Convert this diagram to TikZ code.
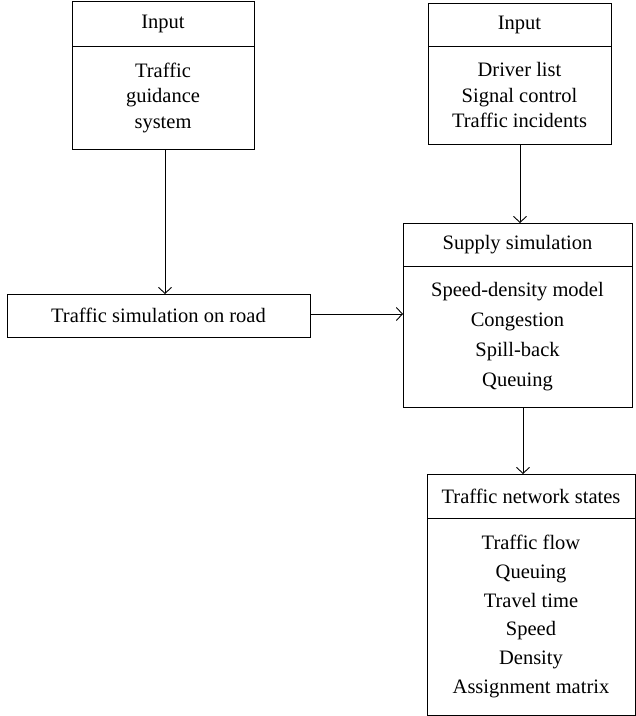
\documentclass[tikz,border=0pt]{standalone}
\usepackage{fontspec}
\setmainfont{Liberation Serif}
\usetikzlibrary{arrows.meta}
\tikzset{
  boxpart/.style={draw, line width=0.9pt, rectangle, inner sep=0pt, outer sep=0pt,
    anchor=north west, align=center, font=\fontsize{20.5}{25.5}\selectfont},
  conn/.style={line width=0.9pt, -{Straight Barb[length=6pt,width=13pt,line width=0.9pt]}}
}
\begin{document}
\begin{tikzpicture}[x=1pt,y=-1pt]
\useasboundingbox (0,0) rectangle (636,716);
% left input
\node[boxpart, minimum width=182pt, minimum height=45pt] (in1t) at (72,1) {Input};
\node[boxpart, minimum width=182pt, minimum height=103pt] (in1b) at (72,46) {Traffic\\guidance\\system};
% right input
\node[boxpart, minimum width=183pt, minimum height=43pt] (in2t) at (428,3) {Input};
\node[boxpart, minimum width=183pt, minimum height=98pt] (in2b) at (428,46) {Driver list\\Signal control\\Traffic incidents};
% road
\node[boxpart, minimum width=303pt, minimum height=43pt] (road) at (7,294) {Traffic simulation on road};
% supply
\node[boxpart, minimum width=229pt, minimum height=43pt] (supt) at (403,223) {Supply simulation};
\node[boxpart, minimum width=229pt, minimum height=141pt, font=\fontsize{20.5}{30}\selectfont] (supb) at (403,266) {Speed-density model\\Congestion\\Spill-back\\Queuing};
% states
\node[boxpart, minimum width=208pt, minimum height=44pt] (stt) at (427,474) {Traffic network states};
\node[boxpart, minimum width=208pt, minimum height=197pt, font=\fontsize{20.5}{28.8}\selectfont] (stb) at (427,518) {Traffic flow\\Queuing\\Travel time\\Speed\\Density\\Assignment matrix};
% connectors
\coordinate (a1) at ([xshift=2pt]in1b.south);
\draw[conn] (a1) -- (a1 |- road.north);
\coordinate (a2) at ([xshift=0.5pt]in2b.south);
\draw[conn] (a2) -- (a2 |- supt.north);
\coordinate (a3) at ([yshift=1.5pt]road.east);
\draw[conn] (a3) -- (a3 -| supb.west);
\coordinate (a4) at ([xshift=5.5pt]supb.south);
\draw[conn] (a4) -- (a4 |- stt.north);
\end{tikzpicture}
\end{document}
